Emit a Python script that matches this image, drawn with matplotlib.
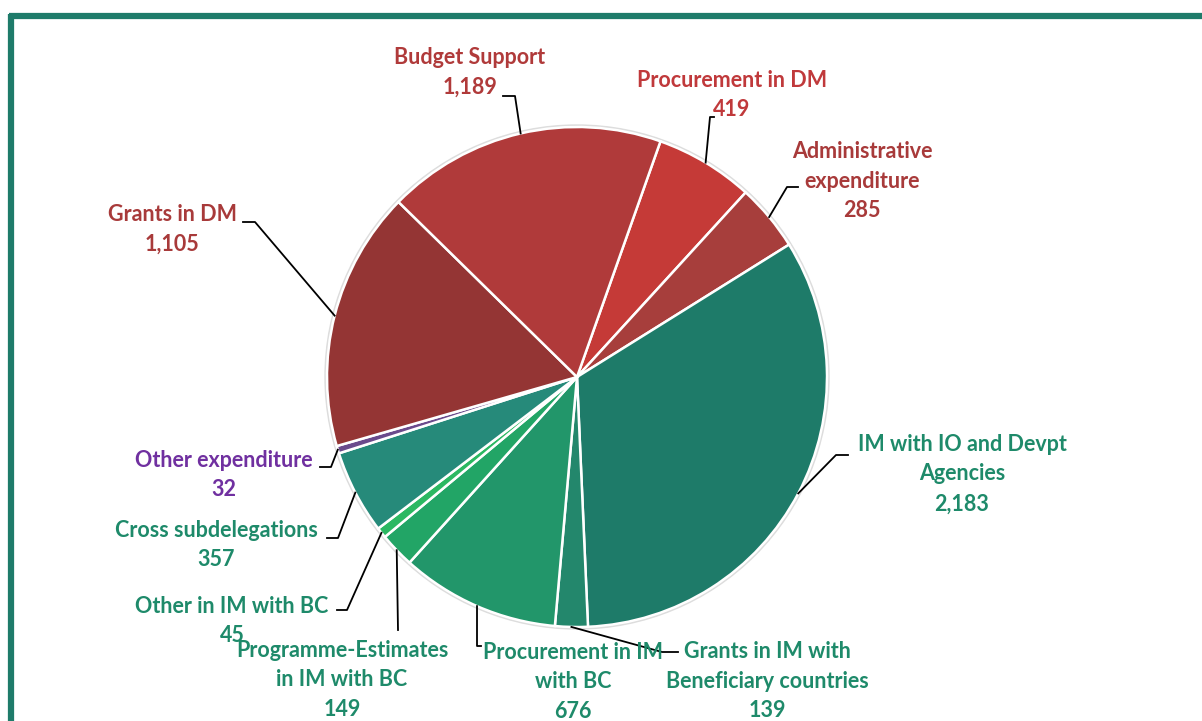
import numpy as np
import matplotlib.pyplot as plt
from matplotlib.patches import Circle

plt.rcParams['font.family'] = ['Lato', 'DejaVu Sans']

# data, clockwise from "Procurement in DM"
labels = ["Procurement in DM", "Administrative\nexpenditure", "IM with IO and Devpt\nAgencies",
          "Grants in IM with\nBeneficiary countries", "Procurement in IM\nwith BC",
          "Programme-Estimates\nin IM with BC", "Other in IM with BC", "Cross subdelegations",
          "Other expenditure", "Grants in DM", "Budget Support"]
values = [419, 285, 2183, 139, 676, 149, 45, 357, 32, 1105, 1189]
wedge_colors = ["#C53A37", "#A73E3C", "#1E7B69", "#23876C", "#22966A", "#22A566",
                "#2BB862", "#268A7A", "#6A4A8C", "#943534", "#B03A3A"]
text_colors = ["#C0393B", "#A83A3A", "#1E8A6A", "#1E8A6A", "#1E8A6A", "#1E8A6A",
               "#1E8A6A", "#1E8A6A", "#7030A0", "#A83A3A", "#B03A3A"]

# layout (image pixel coords, y down): label centre, elbow, end of short horizontal
label_pos = [(732, 95), (862, 181), (962, 474), (767, 681), (573, 682), (342, 680),
             (232, 621), (216, 545), (224, 475), (172, 229), (470, 72)]
elbows = [(710, 117), (787, 187), (836, 455), (662, 652), (477, 646), (398, 630),
          (347, 610), (338, 538), (331, 467), (255, 222), (515, 96)]
h_ends = [714, 798, 848, 678, 481, 398, 337, 327, 320, 243, 503]

W, H = 1202, 721
cx, cy, R = 577, 377, 250

fig = plt.figure(figsize=(W / 100, H / 100), dpi=100)
ax = fig.add_axes([0, 0, 1, 1])


def fy(y):
    return H - y


# frame
ax.plot([9, W], [fy(16), fy(16)], color="#1E7B6A", lw=4.5, solid_capstyle='butt')
ax.plot([11, 11], [fy(14), 0], color="#1E7B6A", lw=4.5, solid_capstyle='butt')

# soft edge round the pie
ax.add_patch(Circle((cx, fy(cy)), R + 2, color="#DDDDDD", zorder=1))

start = 90 - 19.5
wedges, _ = ax.pie(values, colors=wedge_colors, startangle=start, counterclock=False,
                   center=(cx, fy(cy)), radius=R, frame=True,
                   wedgeprops=dict(edgecolor="white", linewidth=1.8))
for w in wedges:
    w.set_zorder(2)
ax.set_xlim(0, W)
ax.set_ylim(0, H)
ax.set_aspect('equal')
ax.axis('off')

for i, w in enumerate(wedges):
    mid = np.deg2rad((w.theta1 + w.theta2) / 2)
    px = cx + R * np.cos(mid)
    py = fy(cy) + R * np.sin(mid)
    ex, ey = elbows[i]
    ax.plot([px, ex, h_ends[i]], [py, fy(ey), fy(ey)], color="black", lw=1.3, zorder=3)
    tx, ty = label_pos[i]
    ax.text(tx, fy(ty), f"{labels[i]}\n{values[i]:,}", color=text_colors[i],
            fontsize=15.5, fontweight='bold', ha='center', va='center',
            linespacing=1.52, zorder=4)

fig.savefig("out.png", dpi=100)
